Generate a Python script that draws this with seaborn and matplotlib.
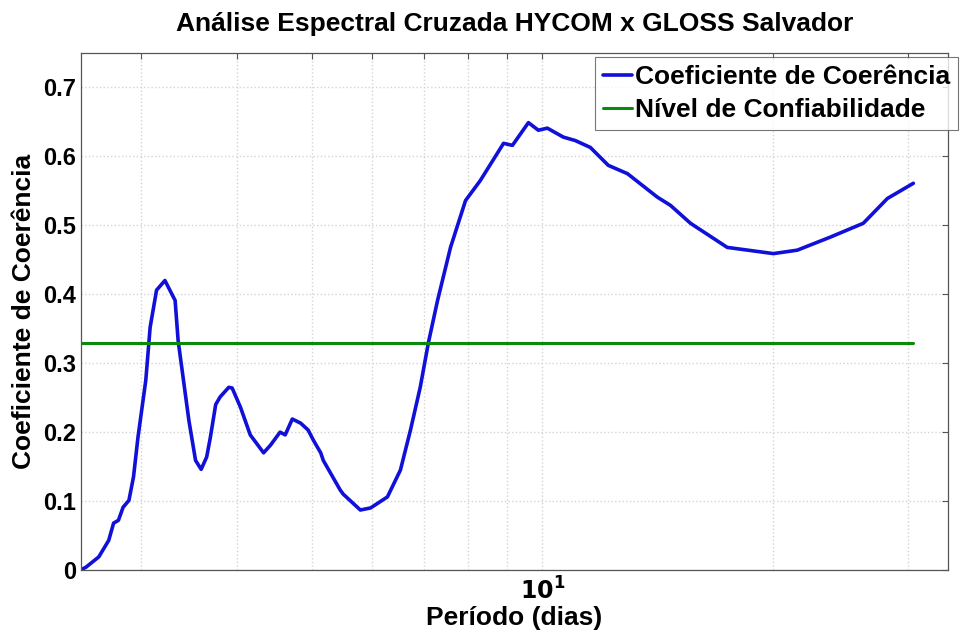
import numpy as np
import pandas as pd
import seaborn as sns
import matplotlib.pyplot as plt

# coherence spectrum (period in days, coherence)
periodo = [2.50, 2.54, 2.64, 2.72, 2.76, 2.80, 2.84, 2.89, 2.93, 2.97, 3.04,
           3.08, 3.14, 3.22, 3.32, 3.35, 3.46, 3.53, 3.59, 3.65, 3.69, 3.75,
           3.80, 3.90, 3.94, 4.04, 4.16, 4.33, 4.42, 4.55, 4.62, 4.72, 4.84,
           4.95, 5.03, 5.14, 5.18, 5.45, 5.50, 5.79, 5.97, 6.28, 6.53, 6.73,
           6.93, 7.10, 7.30, 7.59, 7.94, 8.30, 8.90, 9.14, 9.59, 9.88, 10.15,
           10.65, 11.04, 11.55, 12.19, 12.91, 14.12, 14.69, 15.60, 17.42,
           20.01, 21.50, 23.75, 26.21, 28.18, 30.46]
coerencia = [0.000, 0.004, 0.019, 0.043, 0.068, 0.072, 0.091, 0.101, 0.135,
             0.193, 0.275, 0.352, 0.406, 0.420, 0.391, 0.333, 0.217, 0.159,
             0.146, 0.164, 0.192, 0.240, 0.251, 0.265, 0.264, 0.236, 0.196,
             0.170, 0.181, 0.200, 0.196, 0.219, 0.213, 0.203, 0.188, 0.170,
             0.159, 0.116, 0.110, 0.087, 0.090, 0.106, 0.145, 0.203, 0.265,
             0.329, 0.391, 0.468, 0.536, 0.565, 0.619, 0.616, 0.649, 0.638,
             0.641, 0.628, 0.623, 0.613, 0.587, 0.575, 0.541, 0.529, 0.503,
             0.468, 0.459, 0.464, 0.483, 0.503, 0.539, 0.561]
nivel_conf = 0.33

df = pd.DataFrame({"periodo": periodo, "coerencia": coerencia})
df_conf = pd.DataFrame({"periodo": [periodo[0], periodo[-1]],
                        "coerencia": [nivel_conf, nivel_conf]})

sns.set_style("white")
plt.rcParams["font.family"] = ["Liberation Sans", "DejaVu Sans"]
plt.rcParams["font.weight"] = "bold"
plt.rcParams["text.color"] = "black"
plt.rcParams["axes.labelcolor"] = "black"
plt.rcParams["xtick.labelcolor"] = "black"
plt.rcParams["ytick.labelcolor"] = "black"

fig = plt.figure(figsize=(9.6, 6.38), dpi=100)
ax = fig.add_axes([0.084, 0.1066, 0.9035, 0.8103])

sns.lineplot(data=df, x="periodo", y="coerencia", ax=ax, color="#1010d8",
             linewidth=2.6, label="Coeficiente de Coerência")
sns.lineplot(data=df_conf, x="periodo", y="coerencia", ax=ax, color="#0a8a0a",
             linewidth=2.2, label="Nível de Confiabilidade")

ax.set_xscale("log")
ax.set_xlim(2.5, 33.8)
ax.set_ylim(0, 0.75)
ax.set_xticks([10])
ax.set_xticklabels([r"$\mathbf{10^{1}}$"])
ax.set_xticks([3, 4, 5, 6, 7, 8, 9, 20, 30], minor=True)
ax.set_xticklabels([], minor=True)
ax.set_yticks([0, 0.1, 0.2, 0.3, 0.4, 0.5, 0.6, 0.7])
ax.set_yticklabels(["0", "0.1", "0.2", "0.3", "0.4", "0.5", "0.6", "0.7"])

ax.grid(True, which="both", color="#d4d4d4", linestyle=":", linewidth=1.0)
ax.tick_params(axis="both", which="both", direction="in", top=True, right=True,
               color="#555555", labelcolor="black", labelsize=17, length=4,
               width=0.8)
ax.tick_params(axis="x", which="major", pad=5)
for s in ax.spines.values():
    s.set_color("#555555")
    s.set_linewidth(0.9)

ax.set_title("Análise Espectral Cruzada HYCOM x GLOSS Salvador",
             fontsize=19, fontweight="bold", pad=16, color="black")
ax.set_xlabel("Período (dias)", fontsize=19, fontweight="bold", labelpad=1)
ax.set_ylabel("Coeficiente de Coerência", fontsize=19, fontweight="bold", labelpad=5)

leg = ax.legend(loc="upper right", bbox_to_anchor=(958 / 960, 1 - 57 / 638),
                bbox_transform=fig.transFigure, fontsize=19, frameon=True,
                fancybox=False, handlelength=1.1, handletextpad=0.1,
                borderpad=0.3, labelspacing=0.35, borderaxespad=0)
leg.get_frame().set_edgecolor("#555555")
leg.get_frame().set_linewidth(0.8)
for t in leg.get_texts():
    t.set_color("black")

fig.savefig("out.png", dpi=100)
